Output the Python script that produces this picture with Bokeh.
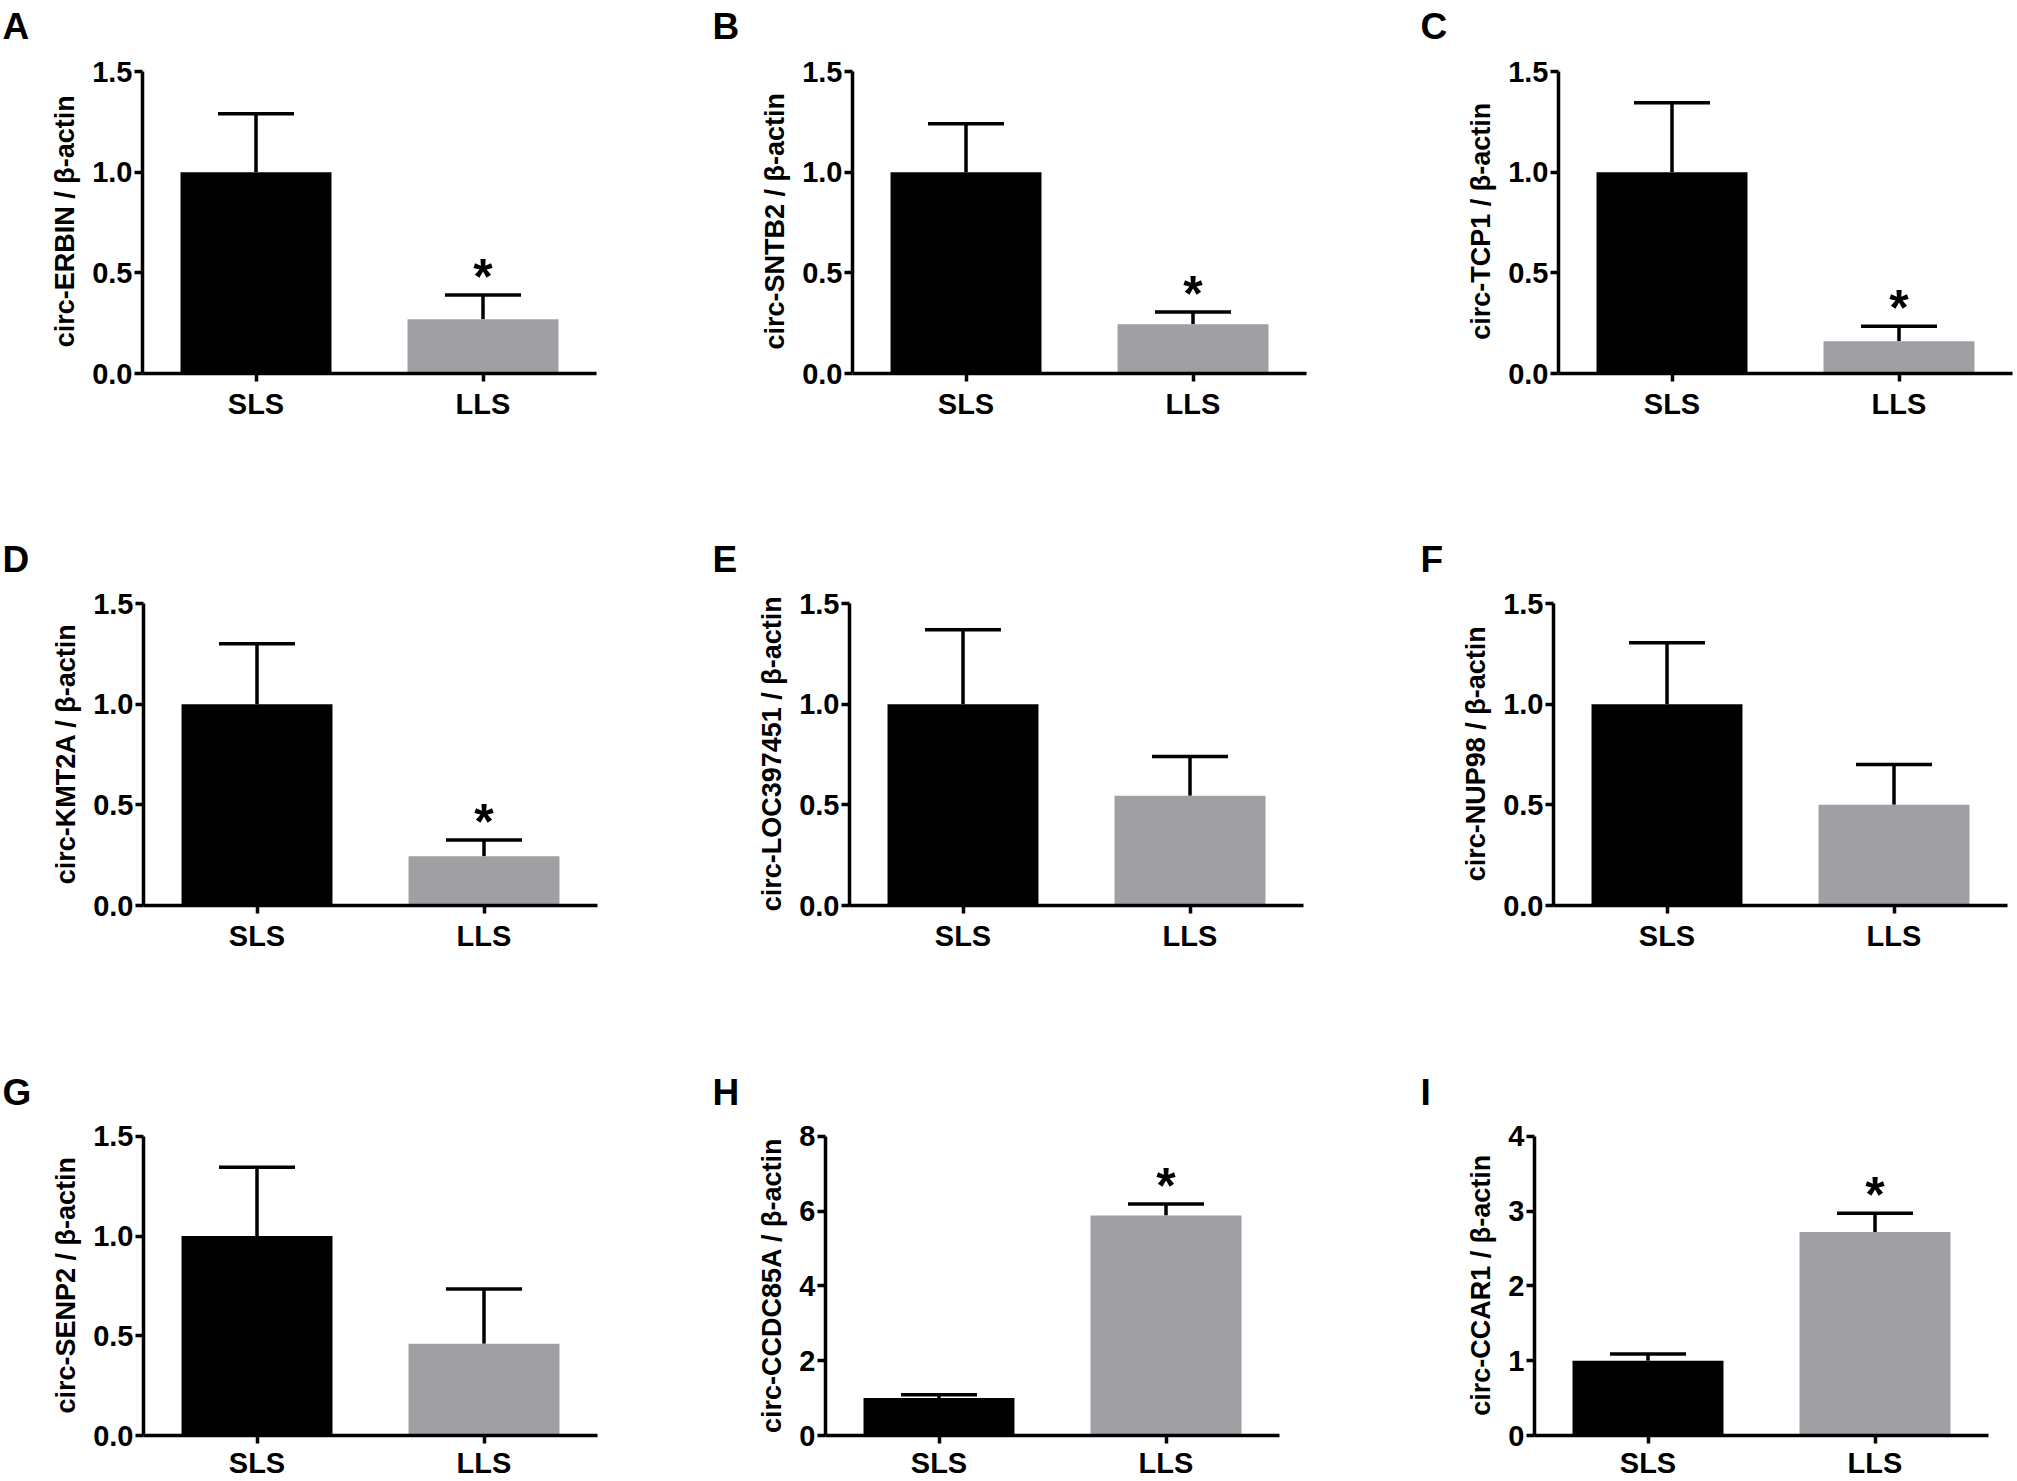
from bokeh.plotting import figure
from bokeh.layouts import column, row
from bokeh.models import (ColumnDataSource, Whisker, TeeHead, Range1d, FixedTicker,
                          NumeralTickFormatter, FactorRange)
from bokeh.core.properties import value
from bokeh.embed import file_html
from bokeh.resources import INLINE

# ---------------- data ----------------
panel_letters = ["A", "B", "C", "D", "E", "F", "G", "H", "I"]
gene_names = ["ERBIN", "SNTB2", "TCP1", "KMT2A", "LOC397451", "NUP98", "SENP2", "CCDC85A", "CCAR1"]
groups = ["SLS", "LLS"]
sls_mean = [1.0, 1.0, 1.0, 1.0, 1.0, 1.0, 1.0, 1.0, 1.0]
sls_upper = [1.29, 1.24, 1.345, 1.30, 1.37, 1.305, 1.345, 1.09, 1.09]
lls_mean = [0.27, 0.245, 0.16, 0.245, 0.545, 0.50, 0.46, 5.88, 2.72]
lls_upper = [0.39, 0.305, 0.235, 0.325, 0.74, 0.70, 0.735, 6.19, 2.97]
significant = [True, True, True, True, False, False, False, True, True]
y_max = [1.5, 1.5, 1.5, 1.5, 1.5, 1.5, 1.5, 8, 4]
y_ticks = [[0, 0.5, 1.0, 1.5]] * 7 + [[0, 2, 4, 6, 8], [0, 1, 2, 3, 4]]
tick_format = ["0.0"] * 7 + ["0", "0"]

# ---------------- layout (page pixels) ----------------
col_origin = [0, 708, 1416]
col_width = [708, 708, 601]
axis_x = [142, 852, 1558, 143, 849, 1553, 143, 825, 1534]
letter_x = [2, 712, 1420]
row_height = [533, 533, 415]
axis_top = [71, 70, 70]      # where the top tick sits, below the row top
x_standoff = [6, 6, 3]
axis_h = 302                 # pixel length of the y axis (0 .. y_max)
frame_w = 454
top_border = 46              # room for the panel letter (title)
# non-breaking padding keeps the y label centred on the drawn axis, not the taller frame
label_pad = "\u00a0\u00a0\u00a0"

BLACK = "#000000"
GRAY = "#a0a0a4"
FONT = "Liberation Sans"

figs = []
for i in range(9):
    r, c = divmod(i, 3)
    left = axis_x[i] - col_origin[c]
    fw = min(frame_w, col_width[c] - left - 2)
    right = col_width[c] - left - fw
    frame_h = axis_h + (axis_top[r] - top_border)
    bottom = row_height[r] - top_border - frame_h
    y_end = y_max[i] * frame_h / axis_h

    p = figure(width=col_width[c], height=row_height[r],
               x_range=FactorRange(factors=groups, range_padding=0),
               y_range=Range1d(0, y_end),
               output_backend="svg", toolbar_location=None,
               min_border_left=left, min_border_right=right,
               min_border_top=top_border, min_border_bottom=bottom)
    p.background_fill_color = "white"
    p.border_fill_color = "white"
    p.outline_line_color = None
    p.xgrid.visible = False
    p.ygrid.visible = False

    # panel letter as the plot title, shifted left of the frame
    p.title.text = panel_letters[i]
    p.title.align = "left"
    p.title.offset = letter_x[c] - axis_x[i]
    p.title.text_font = FONT
    p.title.text_font_style = "bold"
    p.title.text_font_size = "37px"
    p.title.text_color = BLACK
    p.title.standoff = 0

    src = ColumnDataSource(dict(
        x=groups,
        top=[sls_mean[i], lls_mean[i]],
        upper=[sls_upper[i], lls_upper[i]],
        color=[BLACK, GRAY],
    ))
    p.vbar(x="x", top="top", width=0.665, fill_color="color", line_color=None, source=src)

    w = Whisker(source=src, base="x", lower="top", upper="upper",
                line_color=BLACK, line_width=3.5,
                upper_head=TeeHead(size=76, line_width=3.5, line_color=BLACK),
                lower_head=None)
    p.add_layout(w)

    if significant[i]:
        p.text(x=["LLS"], y=[lls_upper[i]], text=["*"], text_align="center",
               text_baseline="alphabetic", y_offset=-18,
               text_font=value(FONT), text_font_style="bold",
               text_font_size="50px", text_color=BLACK)

    for ax in (p.xaxis[0], p.yaxis[0]):
        ax.axis_line_width = 3.5
        ax.axis_line_color = BLACK
        ax.major_tick_line_width = 3.5
        ax.major_tick_line_color = BLACK
        ax.major_tick_out = 8
        ax.major_tick_in = 0
        ax.minor_tick_out = 0
        ax.minor_tick_in = 0
        ax.major_label_text_font = FONT
        ax.major_label_text_font_style = "bold"
        ax.major_label_text_font_size = "29px"
        ax.major_label_text_color = BLACK

    p.yaxis.bounds = (0, y_max[i])
    p.yaxis.ticker = FixedTicker(ticks=y_ticks[i], minor_ticks=[])
    p.yaxis.formatter = NumeralTickFormatter(format=tick_format[i])
    p.yaxis.major_label_standoff = 2
    p.yaxis.axis_label = "circ-" + gene_names[i] + " / \u03b2-actin" + label_pad
    p.yaxis.axis_label_text_font = FONT
    p.yaxis.axis_label_text_font_style = "bold"
    p.yaxis.axis_label_text_font_size = "27px"
    p.yaxis.axis_label_text_color = BLACK
    p.yaxis.axis_label_standoff = 9
    p.xaxis.major_label_standoff = x_standoff[r]

    figs.append(p)

layout = column(row(*figs[0:3]), row(*figs[3:6]), row(*figs[6:9]))
open("out.html", "w").write(file_html(layout, INLINE))
